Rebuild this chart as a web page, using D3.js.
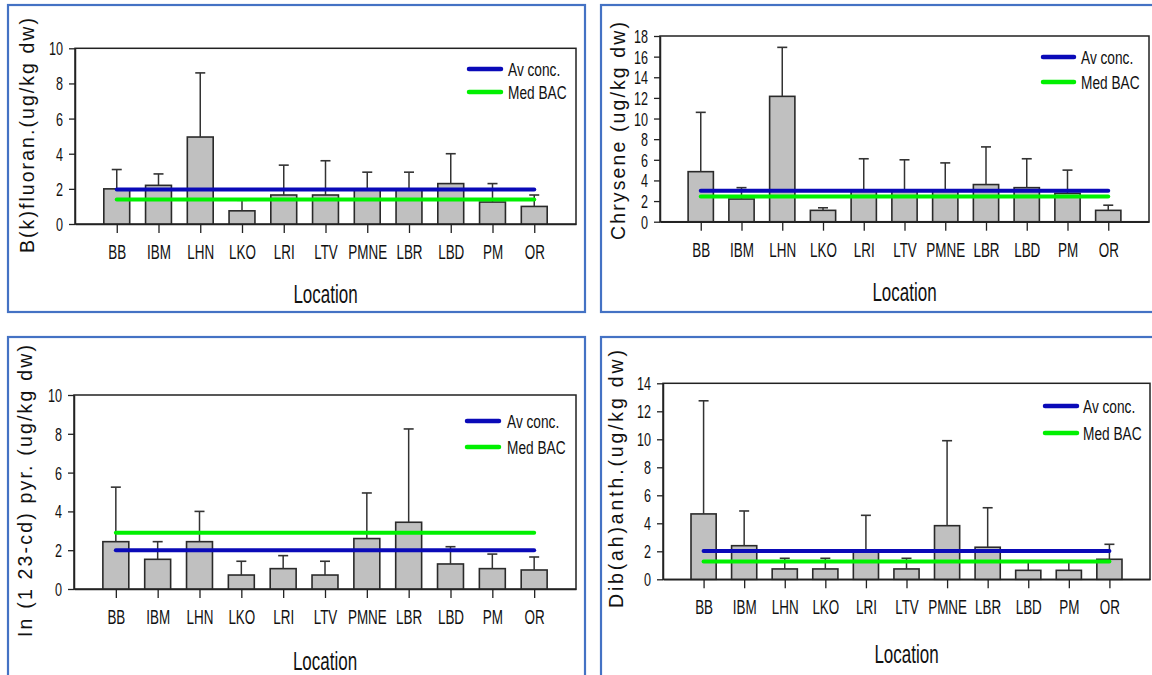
<!DOCTYPE html>
<html>
<head>
<meta charset="utf-8">
<script src="https://cdn.jsdelivr.net/npm/d3@7"></script>
<style>
html,body{margin:0;padding:0;background:#fff;}
svg{display:block;}
text{font-family:"Liberation Sans",Arial,sans-serif;fill:#111;}
</style>
</head>
<body>
<svg id="chart" width="1152" height="675"></svg>
<script>
// ---------- data ----------
const locations = ["BB","IBM","LHN","LKO","LRI","LTV","PMNE","LBR","LBD","PM","OR"];

const bkfMean  = [2.0, 2.2, 4.95, 0.75, 1.65, 1.65, 1.95, 1.95, 2.3, 1.25, 1.0];
const bkfUpper = [3.1, 2.85, 8.6, 1.35, 3.35, 3.6, 2.95, 2.95, 4.0, 2.3, 1.65];
const bkfAv = 1.97, bkfBAC = 1.4;

const chrMean  = [4.85, 2.2, 12.15, 1.1, 2.95, 2.95, 2.95, 3.6, 3.3, 2.75, 1.1];
const chrUpper = [10.6, 3.3, 16.9, 1.35, 6.1, 6.0, 5.7, 7.25, 6.1, 5.0, 1.6];
const chrAv = 3.0, chrBAC = 2.45;

const inpMean  = [2.44, 1.53, 2.44, 0.72, 1.05, 0.72, 2.6, 3.44, 1.29, 1.05, 0.98];
const inpUpper = [5.25, 2.44, 4.0, 1.43, 1.72, 1.43, 4.95, 8.25, 2.18, 1.8, 1.65];
const inpAv = 2.0, inpBAC = 2.9;

const dibMean  = [4.67, 2.4, 0.74, 0.74, 2.0, 0.74, 3.83, 2.29, 0.64, 0.64, 1.43];
const dibUpper = [12.75, 4.88, 1.5, 1.5, 4.57, 1.5, 9.9, 5.11, 1.25, 1.25, 2.5];
const dibAv = 2.02, dibBAC = 1.28;

const bkfTicks = [0,2,4,6,8,10];
const chrTicks = [0,2,4,6,8,10,12,14,16,18];
const inpTicks = [0,2,4,6,8,10];
const dibTicks = [0,2,4,6,8,10,12,14];

const legendLabels = ["Av conc.", "Med BAC"];
const xTitle = "Location";

// ---------- layout ----------
const panels = [
  {title:"B(k)fluoran.(ug/kg dw)", mean:bkfMean, upper:bkfUpper, av:bkfAv, bac:bkfBAC, ticks:bkfTicks,
   border:[8,5,577,307], plot:{x0:75,x1:576,y0:48.3,y1:224},
   legend:{x0:469,x1:501,y:69,dy:23,tx:508}, yt:{x:27,y:135.5,len:235}, loc:303},
  {title:"Chrysene (ug/kg dw)", mean:chrMean, upper:chrUpper, av:chrAv, bac:chrBAC, ticks:chrTicks,
   border:[601,5,570,307], plot:{x0:660,x1:1149,y0:36,y1:221.7},
   legend:{x0:1043,x1:1074,y:57,dy:25,tx:1081}, yt:{x:618,y:131,len:218}, loc:301},
  {title:"In (1 23-cd) pyr. (ug/kg dw)", mean:inpMean, upper:inpUpper, av:inpAv, bac:inpBAC, ticks:inpTicks,
   border:[8,337,577,360], plot:{x0:74,x1:576,y0:395,y1:589},
   legend:{x0:467,x1:499,y:421,dy:26,tx:507}, yt:{x:25,y:491,len:292}, loc:670},
  {title:"Dib(ah)anth.(ug/kg dw)", mean:dibMean, upper:dibUpper, av:dibAv, bac:dibBAC, ticks:dibTicks,
   border:[601,337,570,360], plot:{x0:663,x1:1150,y0:383.3,y1:579.3},
   legend:{x0:1045,x1:1077,y:406,dy:27,tx:1083}, yt:{x:616,y:479,len:258}, loc:663}
];

const svg = d3.select("#chart");
const BLUE = "#0a0ab8", GREEN = "#00f000";

panels.forEach(p => {
  const g = svg.append("g");
  // panel border
  g.append("rect").attr("x",p.border[0]).attr("y",p.border[1])
    .attr("width",p.border[2]).attr("height",p.border[3])
    .attr("fill","none").attr("stroke","#4472c4").attr("stroke-width",2.2);

  const x = d3.scalePoint().domain(locations).range([p.plot.x0,p.plot.x1]).padding(1);
  const yMax = p.ticks[p.ticks.length-1];
  const y = d3.scaleLinear().domain([0,yMax]).range([p.plot.y1,p.plot.y0]);
  const bw = x.step()*0.62;

  // frame
  g.append("rect").attr("x",p.plot.x0).attr("y",p.plot.y0)
    .attr("width",p.plot.x1-p.plot.x0).attr("height",p.plot.y1-p.plot.y0)
    .attr("fill","none").attr("stroke","#222").attr("stroke-width",1.5);

  // bars
  g.selectAll("rect.bar").data(locations).join("rect").attr("class","bar")
    .attr("x",d=>x(d)-bw/2).attr("width",bw)
    .attr("y",(d,i)=>y(p.mean[i])).attr("height",(d,i)=>y(0)-y(p.mean[i]))
    .attr("fill","#c0c0c0").attr("stroke","#2a2a2a").attr("stroke-width",1.6);

  // error bars (upper only)
  g.selectAll("line.err").data(locations).join("line").attr("class","err")
    .attr("x1",d=>x(d)).attr("x2",d=>x(d))
    .attr("y1",(d,i)=>y(p.mean[i])).attr("y2",(d,i)=>y(p.upper[i]))
    .attr("stroke","#333").attr("stroke-width",1.5);
  g.selectAll("line.cap").data(locations).join("line").attr("class","cap")
    .attr("x1",d=>x(d)-5).attr("x2",d=>x(d)+5)
    .attr("y1",(d,i)=>y(p.upper[i])).attr("y2",(d,i)=>y(p.upper[i]))
    .attr("stroke","#333").attr("stroke-width",1.6);

  // axes
  const ax = g.append("g").attr("transform",`translate(0,${p.plot.y1})`)
    .call(d3.axisBottom(x).tickSize(9).tickSizeOuter(0));
  ax.select(".domain").attr("stroke","#222").attr("stroke-width",1.5);
  ax.selectAll(".tick line").attr("stroke","#222").attr("stroke-width",1.3);
  ax.selectAll(".tick text").attr("y",35).attr("dy",0)
    .attr("font-size",21).attr("fill","#111").attr("transform","scale(0.64,1)")
    .style("font-family","'Liberation Sans',Arial,sans-serif");

  const ay = g.append("g").attr("transform",`translate(${p.plot.x0},0)`)
    .call(d3.axisLeft(y).tickValues(p.ticks).tickSize(6).tickSizeOuter(0).tickFormat(d3.format("d")));
  ay.select(".domain").attr("stroke","#222").attr("stroke-width",1.5);
  ay.selectAll(".tick line").attr("stroke","#222").attr("stroke-width",1.3);
  ay.selectAll(".tick text").attr("x",-12/0.7).attr("dy","0.36em")
    .attr("font-size",18).attr("fill","#111").attr("transform","scale(0.7,1)")
    .style("font-family","'Liberation Sans',Arial,sans-serif");

  // reference lines
  const xs = x(locations[0]), xe = x(locations[locations.length-1]);
  g.append("line").attr("x1",xs).attr("x2",xe).attr("y1",y(p.av)).attr("y2",y(p.av))
    .attr("stroke",BLUE).attr("stroke-width",4).attr("stroke-linecap","round");
  g.append("line").attr("x1",xs).attr("x2",xe).attr("y1",y(p.bac)).attr("y2",y(p.bac))
    .attr("stroke",GREEN).attr("stroke-width",4).attr("stroke-linecap","round");

  // legend
  [BLUE,GREEN].forEach((c,i)=>{
    const ly = p.legend.y + i*p.legend.dy;
    g.append("line").attr("x1",p.legend.x0).attr("x2",p.legend.x1).attr("y1",ly).attr("y2",ly)
      .attr("stroke",c).attr("stroke-width",4.5).attr("stroke-linecap","round");
    g.append("text").attr("transform",`translate(${p.legend.tx},${ly+6.5}) scale(0.74,1)`)
      .attr("font-size",18.5).text(legendLabels[i]);
  });

  // axis titles
  g.append("text").attr("transform",`translate(${(p.plot.x0+p.plot.x1)/2},${p.loc}) scale(0.68,1)`)
    .attr("text-anchor","middle").attr("font-size",25).text(xTitle);
  g.append("text").attr("transform",`translate(${p.yt.x},${p.yt.y}) rotate(-90)`)
    .attr("text-anchor","middle").attr("dy","0.35em").attr("font-size",19.5).attr("fill","#222")
    .attr("textLength",p.yt.len).attr("lengthAdjust","spacing").text(p.title);
});
</script>
</body>
</html>
